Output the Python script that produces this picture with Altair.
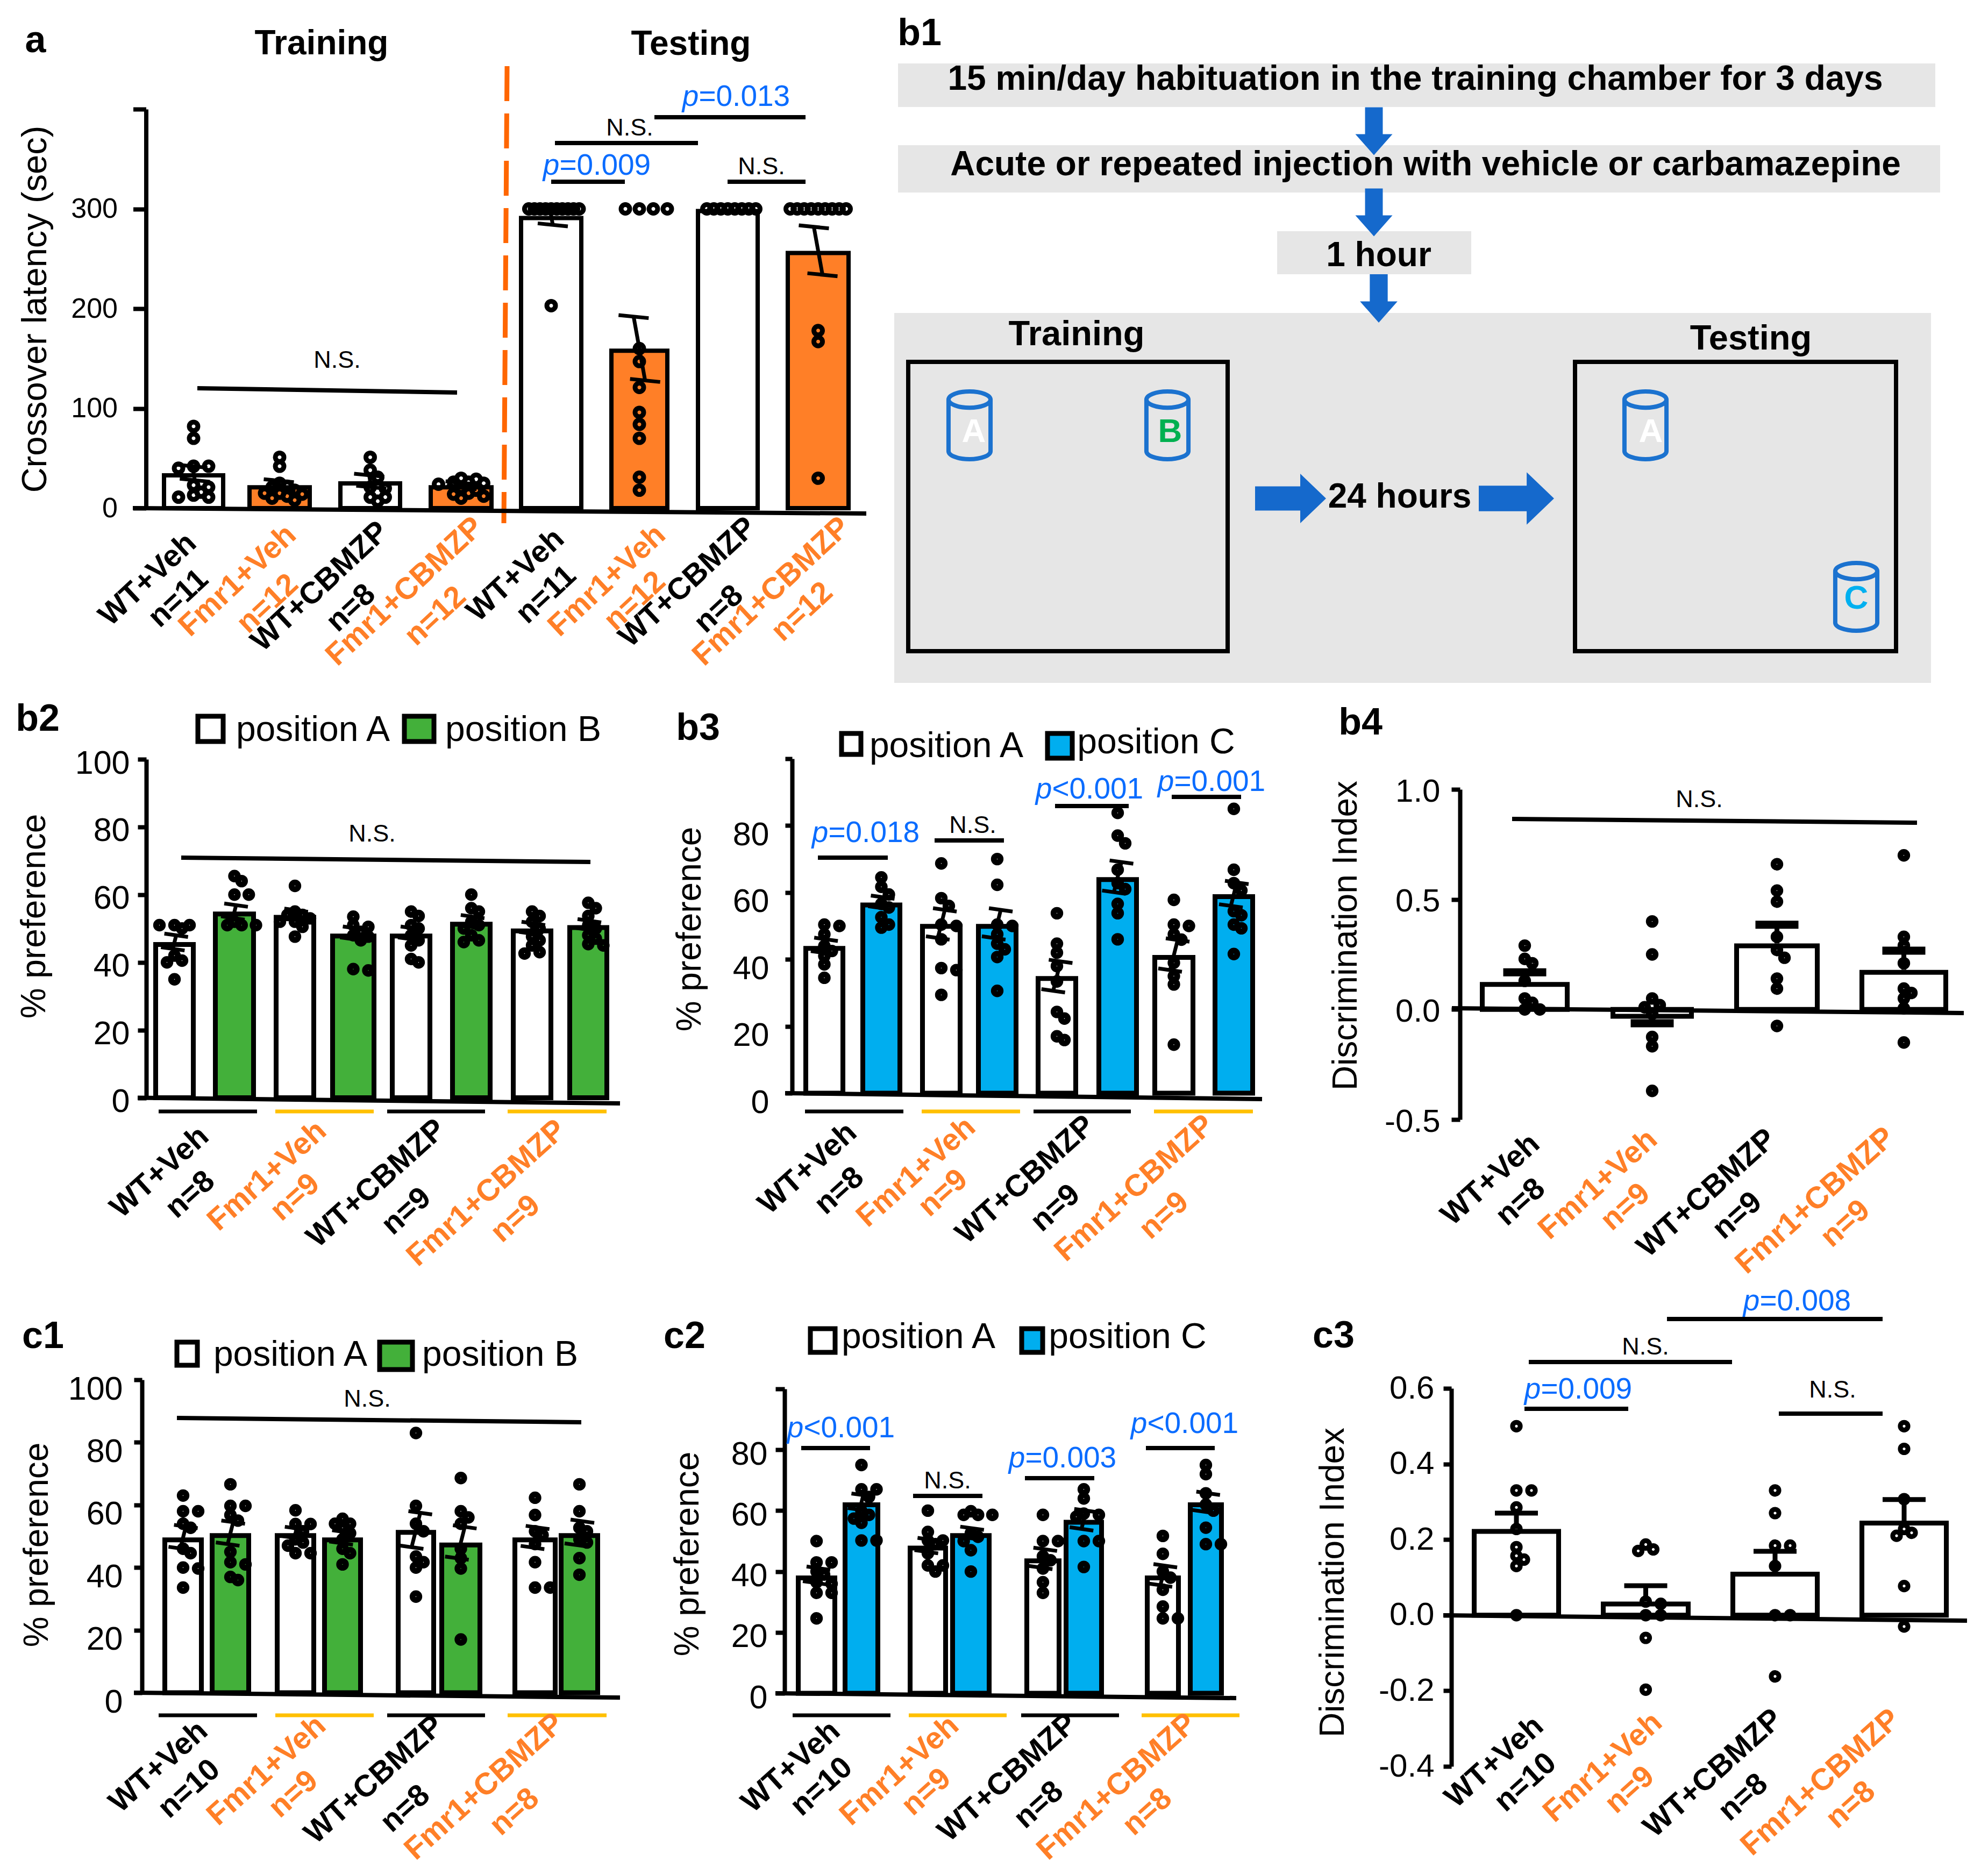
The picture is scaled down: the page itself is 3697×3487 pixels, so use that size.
import altair as alt
import pandas as pd

W, H = 3681, 3471
FONT = "Liberation Sans"
BLACK, ORANGE, GREEN, BLUE, GRAY = "#000000", "#FF7F27", "#43B03A", "#00AEEF", "#E6E6E6"
PBLUE, YELLOW, ARROW = "#0A6CFF", "#FFC000", "#1569CC"

GROUPS = ["WT+Veh", "Fmr1+Veh", "WT+CBMZP", "Fmr1+CBMZP"]
GCOL = [BLACK, ORANGE, BLACK, ORANGE]

# ---------- values ----------
a_means = [35, 23, 27, 23, 293, 160, 300, 258]
a_sems = [7, 4.5, 6, 2.5, 9, 32, 0, 24]
a_points = [
    [82, 70, 42, 42, 40, 23, 21, 16, 13, 11, 11],
    [51, 42, 25, 22, 21, 18, 15, 15, 14, 12, 10, 8],
    [51, 38, 31, 21, 20, 11, 11, 7],
    [30, 29, 26, 26, 25, 24, 20, 18, 15, 14, 12, 10],
    [300, 300, 300, 300, 300, 300, 300, 300, 300, 300, 203],
    [300, 300, 300, 300, 160, 147, 121, 96, 84, 70, 31, 18],
    [300, 300, 300, 300, 300, 300, 300, 300],
    [300, 300, 300, 300, 300, 300, 300, 300, 300, 178, 167, 30],
]
b2_means = [46, 55, 54, 48.5, 48.5, 52, 50, 51]
b2_sems = [2.0, 1.9, 1.4, 1.6, 1.6, 1.5, 1.5, 1.3]
b2_points = [
    [51, 51, 51, 50, 42, 40.5, 40, 35],
    [65.5, 64, 60, 60, 52, 51, 51, 51],
    [62.6, 55, 54, 54, 53, 52, 52, 50.5, 47.6],
    [53.5, 51, 50.5, 49, 48, 47.6, 46.5, 38, 37.6],
    [55, 53.7, 51, 50, 48, 46.5, 45, 41, 40],
    [60, 56, 55, 52, 51, 50, 48, 46.5, 46],
    [55, 53.7, 52, 50, 47.6, 46.5, 45, 43, 42.6],
    [57.6, 56, 53.7, 51, 50, 48, 47, 45.4, 45],
]
b3_means = [44, 57, 50.6, 50.6, 35, 64.6, 41.3, 59.5]
b3_sems = [2, 1.6, 4.2, 4.2, 4.4, 4.5, 4.5, 3.5]
b3_points = [
    [50.4, 50, 47.5, 44, 42.5, 41, 38.5, 34.5],
    [64.5, 61.7, 59.4, 56.6, 55.5, 52.6, 50.4, 49.5],
    [68.7, 58.3, 56, 50.4, 50, 46, 37.4, 36.8, 29.4],
    [70, 62.3, 50.4, 50, 47.5, 44.7, 43, 40.7, 30.6],
    [53.8, 44.7, 42, 38, 33.4, 24.3, 22.3, 17, 15.9],
    [83.8, 77, 74.7, 66.8, 62.8, 61, 56.6, 53.8, 46],
    [57.8, 50.4, 50, 47.5, 45.9, 39, 35, 32.5, 14.5],
    [85, 66.8, 62.8, 60.6, 54.4, 53.2, 50.4, 49.3, 41.6],
]
b4_means = [0.125, -0.02, 0.30, 0.18]
b4_caps = [0.169, -0.063, 0.385, 0.267]
b4_points = [
    [0.29, 0.23, 0.21, 0.13, 0.05, 0.03, 0.0, 0.0],
    [0.40, 0.25, 0.05, 0.02, 0.01, -0.02, -0.125, -0.167, -0.37],
    [0.66, 0.54, 0.49, 0.33, 0.27, 0.235, 0.14, 0.095, -0.075],
    [0.70, 0.33, 0.29, 0.21, 0.095, 0.075, 0.05, 0.005, -0.15],
]
c1_means = [49.6, 51, 51, 49.6, 52, 48, 49.6, 51]
c1_sems = [3.5, 3.5, 1.5, 1.8, 5.5, 5, 3.2, 3.8]
c1_points = [
    [63, 58, 58, 54, 52.7, 46, 44.6, 40, 39.7, 33.6],
    [66.6, 59.7, 59.7, 56.8, 55, 45, 41.7, 41, 37, 36],
    [58.3, 53.9, 53.9, 51.6, 49, 48, 47, 44.6, 44.6],
    [55.6, 54, 54, 52.7, 51, 49, 46, 44.6, 41],
    [83, 59.7, 54, 51.6, 43.5, 41.7, 40, 30.7],
    [68.6, 58, 56, 54, 46, 43, 39.7, 17],
    [62.3, 56.8, 51.6, 50.4, 47.5, 41.7, 33.6, 33.6],
    [66.6, 58, 52.7, 51.6, 49, 48, 43, 37.7],
]
c2_means = [38.7, 62.7, 48.5, 52.6, 44.3, 57, 38.7, 62.7]
c2_sems = [2.4, 2.4, 2, 1.6, 3, 3, 3.2, 3]
c2_points = [
    [50, 43, 43, 40, 39, 36.5, 36, 33, 33, 24.6],
    [75, 67, 67, 64.5, 59.8, 58.6, 57.4, 56, 50.2, 50.2],
    [60, 53, 50.2, 50.2, 49, 46, 42, 42, 40],
    [59.8, 58.6, 58.6, 58.6, 52.6, 51.4, 50, 47, 40],
    [58.6, 50, 50, 45, 43.7, 41, 36.5, 33],
    [67, 64, 59, 58.6, 58, 50, 50, 41.5],
    [51.7, 45.8, 40, 38, 34, 28.5, 24.6, 24.6],
    [75, 72, 65.7, 62, 60, 54.4, 49, 49],
]
c3_means = [0.228, 0.036, 0.115, 0.25]
c3_caps = [0.27, 0.078, 0.169, 0.306]
c3_points = [
    [0.5, 0.33, 0.33, 0.285, 0.228, 0.18, 0.157, 0.147, 0.13, 0.0],
    [0.187, 0.174, 0.17, 0.036, 0.03, 0.0, 0.0, -0.06, -0.197],
    [0.33, 0.27, 0.184, 0.184, 0.13, 0.0, 0.0, -0.162],
    [0.5, 0.44, 0.307, 0.228, 0.218, 0.21, 0.077, -0.03],
]
# ---------- layout ----------
X = alt.Scale(domain=[8, W + 8], range=[0, W], nice=False, zero=False)
PAGE = alt.Scale(domain=[8, H + 8], range=[0, H], nice=False, zero=False)

texts, segs, rects = [], [], []
LAB = 70
TITLE = 64
LEG = 66
XL = 57


def T(x, y, t, c=BLACK, s=60, a=0, style="normal"):
    texts.append(dict(x=x, y=y, t=t, c=c, s=s, a=a, style=style))


def SEG(x1, y1, x2, y2, c=BLACK, sw=8):
    segs.append(dict(x1=x1, y1=y1, x2=x2, y2=y2, c=c, sw=sw))


def R(x1, y1, x2, y2, fill, stroke="transparent", sw=0):
    rects.append(dict(x=x1, x2=x2, y=y1, y2=y2, fill=fill, st=stroke, sw=sw))


def P(cx, cy, t, s=55):
    """blue p-value label with an italic p"""
    rest = t[1:]
    em = 0.584 + 0.556 * 4 + 0.278
    total = (0.556 + em) * s
    left = cx - total / 2
    T(left + 0.278 * s, cy, "p", PBLUE, s, 0, "italic")
    T(left + 0.556 * s + em * s / 2, cy, rest, PBLUE, s)


def NS(cx, cy, s=45):
    T(cx, cy, "N.S.", BLACK, s)


def lines_df(rows):
    out = []
    for i, r in enumerate(rows):
        out.append(dict(id=i, o=0, x=r["x1"], y=r["y1"], c=r["c"], sw=r["sw"]))
        out.append(dict(id=i, o=1, x=r["x2"], y=r["y2"], c=r["c"], sw=r["sw"]))
    return pd.DataFrame(out)


def swarm(vals, cx, unit, limit, d=15.0, step=14.0):
    placed = []
    for v in sorted(vals, reverse=True):
        py = v * unit
        for k in range(0, 40):
            off = ((k + 1) // 2) * step * (1 if k % 2 else -1)
            if k == 0:
                off = 0
            if all((off - o) ** 2 + (py - q) ** 2 >= d * d for o, q in placed):
                placed.append((off, py))
                break
    widest = max(abs(o) for o, _ in placed) or 1
    f = min(1.0, limit / widest)
    return [(cx + o * f, q / unit) for o, q in placed]


def panel(ax_x, lo, hi, py_lo, py_hi, ticks, outer, means, points, fills, tick, pad,
          fs, sems=None, caps=None, stem_sign=1, cap_hw=22, err_sw=7, cap_sw=7,
          ring=154, ring_sw=11, bar_sw=9, expr=None, tilt=0.14, limit=40, lab_off=0):
    unit = (py_lo - py_hi) / (hi - lo)
    yscale = alt.Scale(domain=[lo, hi], range=[py_lo - 8, py_hi - 8], nice=False, zero=False)
    inset = (bar_sw / 2) / unit
    bars = pd.DataFrame([
        dict(x=o[0] + bar_sw / 2, x2=o[1] - bar_sw / 2, top=m - inset, base=0, fill=f)
        for o, m, f in zip(outer, means, fills)
    ])
    axis_kw = dict(values=ticks, orient="left", offset=-(ax_x - 8), tickSize=tick, tickWidth=8,
                   domainWidth=8, domainColor=BLACK, tickColor=BLACK, labelColor=BLACK,
                   labelFont=FONT, labelFontSize=fs, labelPadding=pad, grid=False, title=None,
                   labelOverlap=False, labelFlush=False, labelOffset=lab_off)
    if expr:
        axis_kw["labelExpr"] = expr
    layer = [alt.Chart(bars).mark_rect(stroke=BLACK, strokeWidth=bar_sw).encode(
        x=alt.X("x:Q", scale=X, axis=None), x2="x2:Q",
        y=alt.Y("top:Q", scale=yscale, axis=alt.Axis(**axis_kw)), y2="base:Q",
        fill=alt.Fill("fill:N", scale=None))]
    pts = []
    for o, vals in zip(outer, points):
        pts += [dict(x=a, y=b) for a, b in swarm(vals, (o[0] + o[1]) / 2, unit, limit)]
    layer.append(alt.Chart(pd.DataFrame(pts)).mark_point(
        filled=False, stroke=BLACK, strokeWidth=ring_sw, size=ring, opacity=1).encode(
        x=alt.X("x:Q", scale=X, axis=None),
        y=alt.Y("y:Q", scale=yscale, axis=None)))
    rows = []
    for i, o in enumerate(outer):
        cx = (o[0] + o[1]) / 2
        m = means[i]
        if sems is not None:
            se = sems[i]
            if se == 0:
                continue
            lean = se * unit * tilt * 1.8 * stem_sign
            rows.append(dict(x1=cx + lean, y1=m + se, x2=cx - lean, y2=m - se, c=BLACK, sw=err_sw))
            for v, sx in ((m + se, lean), (m - se, -lean)):
                dy = cap_hw * tilt / unit
                rows.append(dict(x1=cx + sx - cap_hw, y1=v + dy, x2=cx + sx + cap_hw, y2=v - dy,
                                 c=BLACK, sw=cap_sw))
        else:
            v = caps[i]
            rows.append(dict(x1=cx, y1=m, x2=cx, y2=v, c=BLACK, sw=err_sw))
            rows.append(dict(x1=cx - cap_hw, y1=v, x2=cx + cap_hw, y2=v, c=BLACK, sw=cap_sw))
    layer.append(alt.Chart(lines_df(rows)).mark_line(strokeCap="butt").encode(
        x=alt.X("x:Q", scale=X, axis=None),
        y=alt.Y("y:Q", scale=yscale, axis=None),
        order="o:Q", detail="id:N",
        color=alt.Color("c:N", scale=None),
        strokeWidth=alt.StrokeWidth("sw:Q", scale=None)))
    return layer


def xlabels(centers, ns, fs=XL, angle=318):
    for i in range(4):
        (x1, y1), (x2, y2) = centers[i]
        T(x1, y1, GROUPS[i], GCOL[i], fs, angle, "bold")
        T(x2, y2, ns[i], GCOL[i], fs, angle, "bold")


def under(y, spans):
    for (a, b), c in zip(spans, [BLACK, YELLOW, BLACK, YELLOW]):
        SEG(a, y, b, y, c, 7)


layers = []
W_, O_ = "#FFFFFF", ORANGE

# ---------- panel a ----------
a_outer = [(301, 419), (460, 580), (629, 748), (797, 918), (965, 1085), (1133, 1245), (1294, 1413), (1461, 1582)]
layers_a = panel(271.5, 0, 400, 945, 203, [0, 100, 200, 300, 400], a_outer, a_means, a_points,
                 [W_, O_] * 4, 24, 29, 52, sems=a_sems, stem_sign=-1, cap_hw=28, err_sw=7, cap_sw=7,
                 ring=254, ring_sw=9, bar_sw=8, tilt=0.1, limit=52,
                 expr="datum.value==400?'':datum.label")
SEG(247, 945, 1611, 955, BLACK, 8)
SEG(367, 722, 850, 730, BLACK, 8)
NS(627, 670)
T(598, 82, "Training", BLACK, 64, 0, "bold")
T(1285, 83, "Testing", BLACK, 64, 0, "bold")
T(66, 76, "a", BLACK, LAB, 0, "bold")
T(66, 575, "Crossover latency (sec)", BLACK, TITLE + 1, 270)
P(1369, 180, "p=0.013"); SEG(1217, 218, 1498, 218)
NS(1171, 238); SEG(1032, 266, 1298, 266)
P(1110, 308, "p=0.009"); SEG(1025, 338, 1162, 338)
NS(1416, 310); SEG(1353, 338, 1498, 338)
xlabels([((275, 1078), (332, 1113)), ((442, 1080), (498, 1123)), ((595, 1091), (653, 1131)), ((753, 1100), (810, 1146))],
        ["n=11", "n=12", "n=8", "n=12"], XL, 317)
tests = [((959, 1070), (1016, 1106)), ((1129, 1080), (1181, 1118)), ((1279, 1083), (1337, 1133)), ((1435, 1100), (1492, 1138))]
xlabels(tests, ["n=11", "n=12", "n=8", "n=12"], XL, 317)

# ---------- panel b1 ----------
R(1670, 118, 3599, 199, GRAY)
R(1670, 270, 3608, 358, GRAY)
R(2375, 430, 2736, 510, GRAY)
R(1663, 582, 3591, 1270, GRAY)
R(1689, 673, 2283, 1211, "transparent", BLACK, 8)
R(2929, 673, 3526, 1211, "transparent", BLACK, 8)
T(1710, 63, "b1", BLACK, LAB, 0, "bold")
T(2632, 148, "15 min/day habituation in the training chamber for 3 days", BLACK, 64, 0, "bold")
T(2651, 307, "Acute or repeated injection with vehicle or carbamazepine", BLACK, 64, 0, "bold")
T(2564, 476, "1 hour", BLACK, 64, 0, "bold")
T(2002, 622, "Training", BLACK, 65, 0, "bold")
T(3256, 630, "Testing", BLACK, 65, 0, "bold")
T(2603, 925, "24 hours", BLACK, 64, 0, "bold")
T(1811, 803, "A", "#FFFFFF", 62, 0, "bold")
T(2176, 803, "B", "#00B050", 62, 0, "bold")
T(3070, 803, "A", "#FFFFFF", 62, 0, "bold")
T(3452, 1113, "C", "#00B0F0", 62, 0, "bold")

down_x = [2555, 2555, 2564]
down_y = [244, 395, 555]
right_x = [2400, 2820]
right_y = [927, 927]
right_s = [132, 140]
cyl_x = [1803, 2171, 3060, 3452]
cyl_y = [791, 791, 791, 1110]
DOWN = "M-.37,-1 L.37,-1 L.37,.124 L.775,.124 L0,1 L-.775,.124 L-.37,.124 Z"
RIGHT = "M-1,-.34 L.273,-.34 L.273,-.697 L1,0 L.273,.697 L.273,.34 L-1,.34 Z"
CYL = ("M-.62,-.76 A.62,.24 0 1,1 .62,-.76 A.62,.24 0 1,1 -.62,-.76 Z "
       "M-.62,-.76 L-.62,.76 A.62,.24 0 0,0 .62,.76 L.62,-.76")

# ---------- panel b2 ----------
b_out2 = [(285, 364), (396, 476), (509, 588), (614, 700), (725, 804), (837, 916), (950, 1029), (1055, 1133)]
layers_b2 = panel(272, 0, 100, 2041.5, 1412, [0, 20, 40, 60, 80, 100], b_out2, b2_means, b2_points,
                  [W_, GREEN] * 4, 16, 15, 61, sems=b2_sems, lab_off=8)
SEG(256, 2041.5, 1153, 2052)
under(2067, [(295, 478), (512, 695), (720, 902), (944, 1128)])
NS(692, 1551); SEG(337, 1595, 1098, 1603)
T(70, 1338, "b2", BLACK, LAB, 0, "bold")
T(65, 1704, "% preference", BLACK, TITLE, 270)
R(368, 1332, 415, 1379, "#FFFFFF", BLACK, 9)
T(582, 1358, "position A", BLACK, LEG)
R(752, 1332, 807, 1379, GREEN, BLACK, 9)
T(973, 1358, "position B", BLACK, LEG)
xlabels([((297, 2180), (354, 2222)), ((497, 2187), (549, 2227)), ((700, 2201), (756, 2253)), ((905, 2219), (959, 2267))],
        ["n=8", "n=9", "n=9", "n=9"])

# ---------- panel b3 ----------
b_out3 = [(1494, 1572), (1600, 1678), (1711, 1790), (1815, 1894), (1926, 2005), (2039, 2118), (2143, 2223), (2255, 2334)]
layers_b3 = panel(1473, 0, 100, 2033, 1411, [0, 20, 40, 60, 80, 100], b_out3, b3_means, b3_points,
                  [W_, BLUE] * 4, 13, 30, 61, sems=b3_sems, lab_off=18,
                  expr="datum.value==100?'':datum.label")
SEG(1460, 2033, 2347, 2044)
under(2067, [(1497, 1680), (1714, 1897), (1922, 2103), (2146, 2330)])
P(1610, 1549, "p=0.018"); SEG(1521, 1595, 1651, 1595)
NS(1809, 1535); SEG(1738, 1563, 1867, 1563)
P(2026, 1468, "p<0.001"); SEG(1962, 1499, 2099, 1499)
P(2253, 1454, "p=0.001"); SEG(2179, 1482, 2308, 1482)
T(1298, 1355, "b3", BLACK, LAB, 0, "bold")
T(1284, 1728, "% preference", BLACK, TITLE, 270)
R(1565, 1364, 1601, 1403, "#FFFFFF", BLACK, 9)
T(1760, 1388, "position A", BLACK, LEG)
R(1948, 1364, 1994, 1410, BLUE, BLACK, 9)
T(2150, 1381, "position C", BLACK, LEG)
xlabels([((1502, 2173), (1561, 2215)), ((1704, 2180), (1754, 2219)), ((1907, 2194), (1963, 2247)), ((2110, 2210), (2165, 2261))],
        ["n=8", "n=9", "n=9", "n=9"])

# ---------- panel b4 ----------
b_out4 = [(2752, 2919), (2995, 3150), (3225, 3384), (3458, 3623)]
SIGN = "(datum.value<0?'-':'')+format(abs(datum.value),'.1f')"
layers_b4 = panel(2715, -0.5, 1.0, 2082, 1468, [-0.5, 0, 0.5, 1.0], b_out4, b4_means, b4_points,
                  [W_] * 4, 16, 21, 60, caps=b4_caps, cap_hw=40, err_sw=9, cap_sw=15, expr=SIGN,
                  limit=28, lab_off=4)
SEG(2700, 1875, 3652, 1884)
NS(3160, 1487); SEG(2812, 1523, 3565, 1530)
T(2530, 1345, "b4", BLACK, LAB, 0, "bold")
T(2504, 1740, "Discrimination Index", BLACK, TITLE, 270)
xlabels([((2772, 2194), (2828, 2236)), ((2972, 2203), (3023, 2245)), ((3174, 2219), (3231, 2261)), ((3376, 2233), (3432, 2276))],
        ["n=8", "n=9", "n=9", "n=9"])

# ---------- panel c1 ----------
c_out1 = [(302, 379), (390, 467), (511, 588), (599, 675), (736, 811), (817, 897), (953, 1037), (1039, 1116)]
layers_c1 = panel(264, 0, 100, 3148, 2566, [0, 20, 40, 60, 80, 100], c_out1, c1_means, c1_points,
                  [W_, GREEN] * 4, 15, 21, 61, sems=c1_sems, lab_off=18)
SEG(249, 3148, 1153, 3157)
under(3190, [(295, 478), (512, 695), (720, 902), (944, 1128)])
NS(683, 2602); SEG(329, 2637, 1081, 2645)
T(80, 2486, "c1", BLACK, LAB, 0, "bold")
T(70, 2873, "% preference", BLACK, TITLE, 270)
R(329, 2496, 367, 2539, "#FFFFFF", BLACK, 9)
T(540, 2520, "position A", BLACK, LEG)
R(706, 2496, 767, 2547, GREEN, BLACK, 9)
T(930, 2520, "position B", BLACK, LEG)
xlabels([((295, 3286), (352, 3327)), ((496, 3293), (546, 3337)), ((696, 3310), (754, 3364)), ((901, 3323), (957, 3370))],
        ["n=10", "n=9", "n=8", "n=8"])

# ---------- panel c2 ----------
c_out2 = [(1480, 1557), (1567, 1637), (1688, 1763), (1767, 1844), (1905, 1974), (1978, 2053), (2129, 2196), (2209, 2276)]
layers_c2 = panel(1459, 0, 100, 3149, 2583, [0, 20, 40, 60, 80, 100], c_out2, c2_means, c2_points,
                  [W_, BLUE] * 4, 17, 15, 61, sems=c2_sems, lab_off=9,
                  expr="datum.value==100?'':datum.label")
SEG(1442, 3149, 2299, 3158)
under(3190, [(1474, 1656), (1690, 1872), (1899, 2081), (2123, 2305)])
P(1564, 2656, "p<0.001"); SEG(1490, 2693, 1618, 2693)
NS(1762, 2754); SEG(1698, 2782, 1827, 2782)
P(1976, 2712, "p=0.003"); SEG(1906, 2749, 2035, 2749)
P(2203, 2648, "p<0.001"); SEG(2131, 2693, 2259, 2693)
T(1273, 2486, "c2", BLACK, LAB, 0, "bold")
T(1280, 2890, "% preference", BLACK, TITLE, 270)
R(1507, 2471, 1553, 2515, "#FFFFFF", BLACK, 9)
T(1708, 2487, "position A", BLACK, LEG)
R(1900, 2471, 1939, 2515, BLUE, BLACK, 9)
T(2097, 2487, "position C", BLACK, LEG)
xlabels([((1471, 3286), (1528, 3323)), ((1673, 3293), (1723, 3333)), ((1874, 3306), (1932, 3357)), ((2077, 3323), (2134, 3370))],
        ["n=10", "n=9", "n=8", "n=8"])

# ---------- panel c3 ----------
c_out3 = [(2737, 2903), (2977, 3144), (3218, 3384), (3458, 3624)]
layers_c3 = panel(2699, -0.4, 0.6, 3285, 2582, [-0.4, -0.2, 0, 0.2, 0.4, 0.6], c_out3, c3_means, c3_points,
                  [W_] * 4, 15, 17, 60, caps=c3_caps, cap_hw=40, err_sw=9, cap_sw=9, expr=SIGN, limit=28,
                  ring=201, ring_sw=9)
SEG(2684, 3004, 3658, 3014)
P(2935, 2584, "p=0.009"); SEG(2835, 2620, 3028, 2620)
NS(3060, 2505); SEG(2843, 2533, 3221, 2533)
P(3342, 2420, "p=0.008"); SEG(3100, 2453, 3501, 2453)
NS(3408, 2585); SEG(3308, 2629, 3501, 2629)
T(2480, 2485, "c3", BLACK, LAB, 0, "bold")
T(2480, 2943, "Discrimination Index", BLACK, TITLE, 270)
xlabels([((2779, 3277), (2837, 3315)), ((2981, 3287), (3031, 3329)), ((3186, 3298), (3242, 3343)), ((3386, 3315), (3442, 3357))],
        ["n=10", "n=9", "n=8", "n=8"])

# ---------- assemble ----------
page_y = lambda f: alt.Y(f, scale=PAGE, axis=None)
page_x = lambda f: alt.X(f, scale=X, axis=None)

rect_df = pd.DataFrame(rects)
layers.append(alt.Chart(rect_df[rect_df.sw == 0]).mark_rect().encode(
    x=page_x("x:Q"), x2="x2:Q", y=page_y("y:Q"), y2="y2:Q", fill=alt.Fill("fill:N", scale=None)))
dash = pd.DataFrame(dict(id=[0, 0], o=[0, 1], x=[943, 937], y=[123, 973]))
layers.append(alt.Chart(dash).mark_line(color="#FF6600", strokeWidth=9, strokeDash=[65, 23]).encode(
    x=page_x("x:Q"), y=page_y("y:Q"), order="o:Q"))
for l in (layers_a, layers_b2, layers_b3, layers_b4, layers_c1, layers_c2, layers_c3):
    layers += l
layers.append(alt.Chart(rect_df[rect_df.sw > 0]).mark_rect().encode(
    x=page_x("x:Q"), x2="x2:Q", y=page_y("y:Q"), y2="y2:Q",
    fill=alt.Fill("fill:N", scale=None), stroke=alt.Stroke("st:N", scale=None),
    strokeWidth=alt.StrokeWidth("sw:Q", scale=None)))
layers.append(alt.Chart(lines_df(segs)).mark_line(strokeCap="butt").encode(
    x=page_x("x:Q"), y=page_y("y:Q"), order="o:Q", detail="id:N",
    color=alt.Color("c:N", scale=None), strokeWidth=alt.StrokeWidth("sw:Q", scale=None)))
for shape, xs, ys, ss in [
    (DOWN, down_x, down_y, [89, 89, 90]),
    (RIGHT, right_x, right_y, right_s),
]:
    d = pd.DataFrame(dict(x=xs, y=ys, s=[v * v for v in ss]))
    layers.append(alt.Chart(d).mark_point(shape=shape, filled=True, color=ARROW, opacity=1, strokeWidth=0).encode(
        x=page_x("x:Q"), y=page_y("y:Q"), size=alt.Size("s:Q", scale=None)))
layers.append(alt.Chart(pd.DataFrame(dict(x=cyl_x, y=cyl_y))).mark_point(
    shape=CYL, filled=False, stroke="#1B72CF", strokeWidth=8, size=126 * 126, opacity=1).encode(
    x=page_x("x:Q"), y=page_y("y:Q")))

text_df = pd.DataFrame(texts)
for style, kw in [("normal", {}), ("bold", dict(fontWeight="bold")), ("italic", dict(fontStyle="italic"))]:
    layers.append(alt.Chart(text_df[text_df["style"] == style]).mark_text(
        font=FONT, align="center", baseline="middle", **kw).encode(
        x=page_x("x:Q"), y=page_y("y:Q"), text="t:N",
        color=alt.Color("c:N", scale=None), size=alt.Size("s:Q", scale=None),
        angle=alt.Angle("a:Q", scale=None)))

chart = alt.layer(*layers).resolve_scale(y="independent").properties(
    width=W, height=H, padding=0, autosize=alt.AutoSizeParams(type="none"), background="white"
).configure_view(stroke=None)
chart.save("out.html", embed_options={"renderer": "svg", "actions": False})
